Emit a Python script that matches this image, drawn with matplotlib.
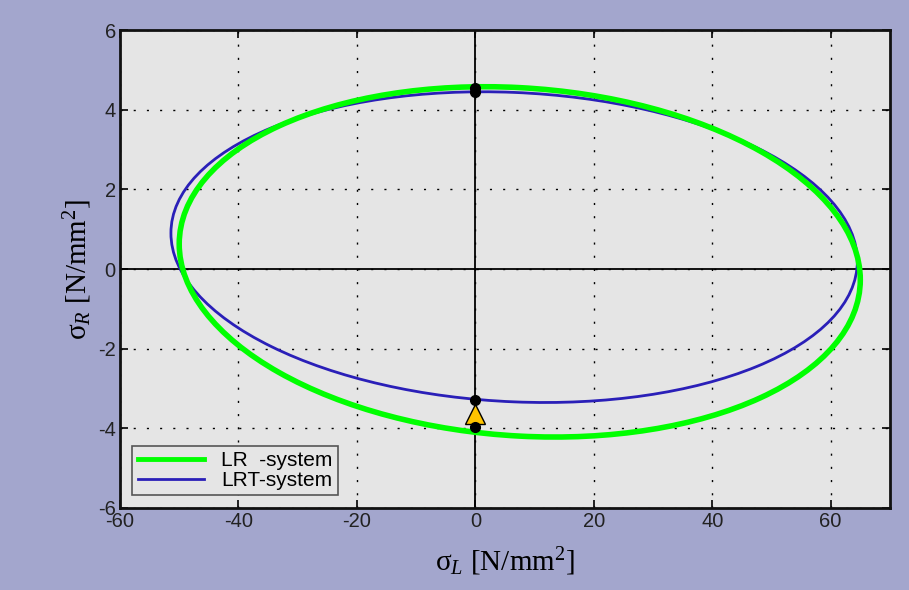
import matplotlib
matplotlib.use("Agg")
import matplotlib.pyplot as plt
from matplotlib.patches import Ellipse
from matplotlib.lines import Line2D

# ellipse parameters: centre (x, y), full width, full height, tilt (deg)
lr_center = (7.5, 0.18)
lr_size = (115.0, 8.75)
lr_angle = -0.45

lrt_center = (6.55, 0.55)
lrt_size = (115.9, 7.77)
lrt_angle = -0.35

# points on the sigma_R axis
dot_y = [4.55, 4.45, -3.3, -3.97]
tri_y = [-3.65]

series_labels = ["LR  -system", "LRT-system"]
xticks = [-60, -40, -20, 0, 20, 40, 60]
yticks = [-6, -4, -2, 0, 2, 4, 6]

plt.rcParams["axes.unicode_minus"] = False
plt.rcParams["font.family"] = ["Liberation Sans", "DejaVu Sans"]
plt.rcParams["mathtext.fontset"] = "custom"
plt.rcParams["mathtext.rm"] = "Liberation Serif"
plt.rcParams["mathtext.it"] = "Liberation Serif:italic"

bg = "#a3a6cd"
green = "#00ff00"
blue = "#2a1fb8"

fig = plt.figure(figsize=(9.09, 5.90), dpi=100, facecolor=bg)
ax = fig.add_axes([0.132, 0.139, 0.847, 0.810])
ax.set_facecolor("#e5e5e5")

ax.axhline(0, color="black", lw=1.3, zorder=1)
ax.axvline(0, color="black", lw=1.3, zorder=1)

ax.add_patch(Ellipse(lrt_center, lrt_size[0], lrt_size[1], angle=lrt_angle,
                     fill=False, edgecolor=blue, lw=2.0, zorder=3))
ax.add_patch(Ellipse(lr_center, lr_size[0], lr_size[1], angle=lr_angle,
                     fill=False, edgecolor=green, lw=4.0, zorder=4))

ax.plot([0] * len(dot_y), dot_y, "o", color="black", ms=7, zorder=6)
ax.plot([0] * len(tri_y), tri_y, "^", color="#ffc400", mec="black", mew=1.0, ms=15, zorder=5)

ax.set_xlim(-60, 70)
ax.set_ylim(-6, 6)
ax.set_xticks(xticks)
ax.set_yticks(yticks)
ax.grid(True, color="black", linestyle=(0, (1.5, 8.0)), lw=1.0)
ax.set_axisbelow(True)
ax.tick_params(direction="in", length=6, width=1.2, top=True, right=True,
               labelsize=14.5, labelcolor="#222222", pad=3)
for s in ax.spines.values():
    s.set_linewidth(2.0)
    s.set_color("#111111")

ax.set_xlabel(r"σ$_L$ [N/mm$^2$]", fontsize=21, family="Liberation Serif", labelpad=10)
ax.set_ylabel(r"σ$_R$ [N/mm$^2$]", fontsize=21, family="Liberation Serif", labelpad=3)

handles = [Line2D([], [], color=green, lw=3.5), Line2D([], [], color=blue, lw=2.0)]
leg = ax.legend(handles, series_labels, loc="lower left", fontsize=15,
                fancybox=False, framealpha=1.0, borderaxespad=0.6,
                handlelength=3.2, handletextpad=0.8, labelspacing=0.05, borderpad=0.25)
leg.get_frame().set_facecolor("#e5e5e5")
leg.get_frame().set_edgecolor("#555555")
leg.get_frame().set_linewidth(1.2)

fig.savefig("out.png", dpi=100, facecolor=bg)
